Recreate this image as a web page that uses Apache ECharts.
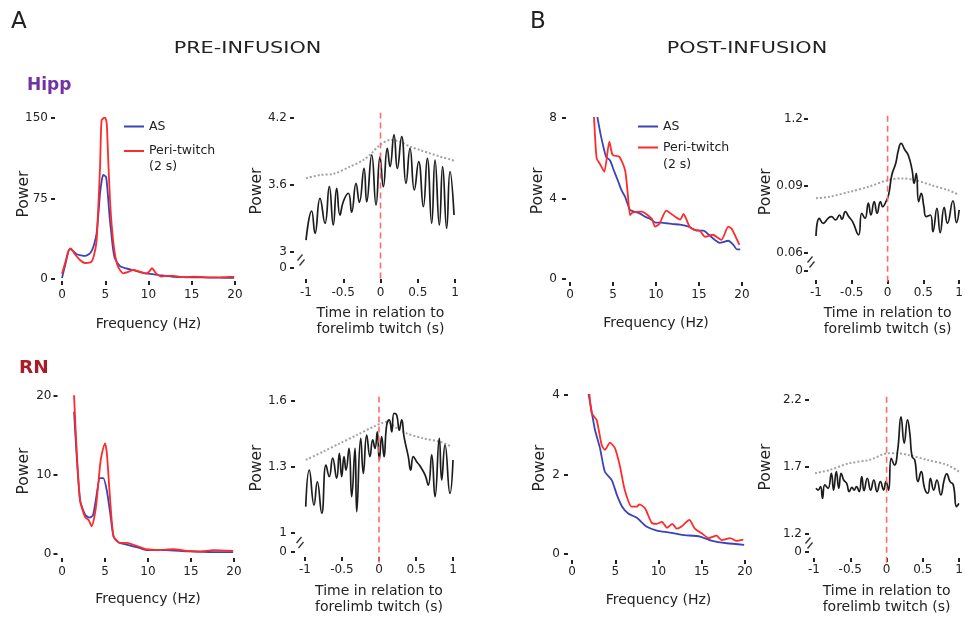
<!DOCTYPE html>
<html><head><meta charset="utf-8">
<script src="https://cdn.jsdelivr.net/npm/echarts@6/dist/echarts.min.js"></script>
<style>html,body{margin:0;padding:0;background:#fff}#c{width:966px;height:618px}</style>
</head><body><div id="c"></div>
<script>
// ================= DATA =================
const freqAxisTicks = [0, 5, 10, 15, 20];
const timeAxisTicks = [-1, -0.5, 0, 0.5, 1];
const twitchTime = 0;
const brokenAxisZeroLabel = '0';

// A - Hipp, pre-infusion spectrum [Hz, power]
const hippPrePowerTicks = [0, 75, 150];
const hippPreAS = [[0,1],[0.4,14],[0.9,28],[1.3,26],[1.7,23],[2.2,22],[2.7,21.5],[3.1,23],[3.4,25.8],[3.7,32],[4,42.6],[4.2,60],[4.4,80],[4.6,92],[4.77,97],[5.1,95],[5.35,73.6],[5.5,58],[5.7,42.6],[5.9,28],[6.1,19.5],[6.7,12],[7.4,10],[8.2,8.4],[9,6.5],[9.7,5.3],[10.5,4.5],[11.2,3.7],[12,3],[12.9,2],[14,1.8],[16,1.5],[18,1.2],[19.9,1]];
const hippPrePeri = [[0,5],[0.4,16],[0.73,26],[1.0,28.6],[1.5,23],[2.08,17.7],[2.66,14.9],[3.0,15],[3.4,16],[3.7,22],[4,36],[4.2,68],[4.4,104.6],[4.58,148],[4.97,150.6],[5.17,145],[5.35,110],[5.55,73.6],[5.8,45],[6.1,24],[6.4,13],[6.7,8.4],[7.1,5.3],[7.6,6.5],[8.2,8.4],[8.9,7],[9.7,5],[10.1,7],[10.4,10],[10.9,5],[11.5,2.3],[12.2,3],[12.9,3],[13.6,2],[14.4,1.6],[15.2,2.2],[16,2],[17,1.6],[17.9,1.5],[18.9,1.8],[19.9,2]];

// A - Hipp, pre-infusion peri-twitch power [s, power]
const hippPreTimeTicks = [3, 3.6, 4.2];
const hippPreTimeTickLabels = ['3', '3.6', '4.2'];
const hippPreTwitch = [[-1.0,3.107],[-0.924,3.367],[-0.879,3.167],[-0.812,3.481],[-0.745,3.257],[-0.687,3.585],[-0.634,3.242],[-0.588,3.570],[-0.544,3.331],[-0.5,3.45],[-0.432,3.526],[-0.387,3.356],[-0.329,3.615],[-0.284,3.445],[-0.221,3.749],[-0.185,3.45],[-0.118,3.869],[-0.06,3.421],[-0.007,3.853],[0.038,3.585],[0.091,3.929],[0.128,3.764],[0.181,4.048],[0.226,3.749],[0.284,4.033],[0.342,3.615],[0.396,3.929],[0.454,3.555],[0.512,3.809],[0.575,3.406],[0.628,3.839],[0.687,3.257],[0.732,3.824],[0.79,3.242],[0.834,3.764],[0.888,3.212],[0.933,3.719],[0.987,3.331]];
const hippPreShuffled = [[-1,3.66],[-0.81,3.69],[-0.63,3.70],[-0.41,3.764],[-0.23,3.824],[-0.12,3.884],[-0.01,3.958],[0.13,4.003],[0.26,3.988],[0.4,3.943],[0.53,3.913],[0.66,3.884],[0.8,3.854],[0.96,3.824],[1.0,3.81]];

// B - Hipp, post-infusion spectrum
const hippPostPowerTicks = [0, 4, 8];
const hippPostAS = [[3.18,8.06],[3.6,7.1],[4.19,6.08],[4.65,5.9],[5.1,5.4],[5.62,4.83],[6.0,4.4],[6.4,4.09],[6.98,3.43],[7.5,3.35],[8.1,3.26],[8.7,3.1],[9.3,3.0],[9.96,2.8],[10.6,2.8],[11.2,2.77],[12,2.73],[12.8,2.7],[13.8,2.6],[14.8,2.4],[15.5,2.4],[16.4,2.1],[17.4,1.8],[18.4,1.9],[19,1.7],[19.4,1.47],[19.8,1.47]];
const hippPostPeri = [[2.79,8.06],[3.1,6.0],[3.5,5.7],[3.99,5.33],[4.57,6.82],[4.96,6.16],[5.73,6.08],[6.4,5.42],[6.7,4.3],[6.98,3.18],[7.25,3.3],[8.33,3.35],[9.5,3.0],[9.9,2.6],[10.4,2.75],[11.2,3.4],[12.2,3.1],[12.8,2.95],[13.2,3.23],[13.9,2.6],[14.4,2.45],[15.1,2.4],[15.7,2.1],[16.6,2.2],[17.6,1.94],[18.4,2.6],[18.8,2.5],[19.7,1.69]];

// B - Hipp, post-infusion peri-twitch power
const hippPostTimeTicks = [0.06, 0.09, 0.12];
const hippPostTimeTickLabels = ['0.06', '0.09', '1.2'];
const hippPostTwitch = [[-1.0,0.0676],[-0.954,0.0755],[-0.9,0.0733],[-0.831,0.0755],[-0.785,0.0763],[-0.726,0.0748],[-0.671,0.0770],[-0.639,0.0751],[-0.589,0.0785],[-0.543,0.0763],[-0.489,0.074],[-0.406,0.0681],[-0.361,0.0778],[-0.315,0.0755],[-0.269,0.0823],[-0.233,0.077],[-0.187,0.0830],[-0.146,0.0778],[-0.1,0.0830],[-0.068,0.0807],[-0.023,0.0830],[0.014,0.086],[0.059,0.0949],[0.114,0.1002],[0.151,0.1061],[0.188,0.1091],[0.242,0.1061],[0.288,0.1039],[0.342,0.0972],[0.37,0.0912],[0.401,0.0957],[0.434,0.0830],[0.47,0.0867],[0.507,0.0807],[0.539,0.0763],[0.598,0.0770],[0.634,0.0695],[0.689,0.0800],[0.735,0.0691],[0.79,0.0804],[0.836,0.0733],[0.913,0.0834],[0.963,0.0736],[1.0,0.0793]];
const hippPostShuffled = [[-1,0.0845],[-0.81,0.0852],[-0.53,0.0874],[-0.26,0.0897],[0.01,0.0927],[0.2,0.0934],[0.38,0.0927],[0.61,0.0904],[0.84,0.0882],[1.0,0.086]];

// A - RN, pre-infusion spectrum
const rnPrePowerTicks = [0, 10, 20];
const rnPreAS = [[1.4,18],[1.7,12.5],[2.1,6.8],[2.67,5],[3.2,4.6],[3.6,4.9],[4,7.3],[4.4,9.6],[4.8,9.6],[5.2,8.1],[5.6,5.2],[6,2.2],[6.7,1.4],[7.5,1.2],[8.9,0.8],[9.8,0.5],[12,0.5],[14.5,0.35],[17.6,0.25],[19.9,0.25]];
const rnPrePeri = [[1.4,20.1],[1.7,13.2],[2.1,6.8],[2.67,4.7],[3.1,4.3],[3.45,3.5],[3.75,4.6],[4.0,6.4],[4.4,11],[4.6,12.5],[5.0,14],[5.2,12.9],[5.4,10],[5.6,6.8],[6.0,2.2],[6.7,1.4],[7.5,1.4],[8.2,1.2],[8.9,0.95],[9.8,0.6],[11.2,0.5],[12.9,0.6],[14.5,0.4],[16,0.3],[17.6,0.5],[19.9,0.4]];

// A - RN, pre-infusion peri-twitch power
const rnPreTimeTicks = [1, 1.3, 1.6];
const rnPreTimeTickLabels = ['1', '1.3', '1.6'];
const rnPreTwitch = [[-0.99,1.12],[-0.942,1.286],[-0.878,1.127],[-0.834,1.233],[-0.774,1.09],[-0.716,1.309],[-0.672,1.256],[-0.626,1.34],[-0.572,1.249],[-0.536,1.362],[-0.504,1.256],[-0.473,1.347],[-0.446,1.286],[-0.405,1.385],[-0.369,1.165],[-0.324,1.385],[-0.301,1.097],[-0.247,1.43],[-0.212,1.271],[-0.166,1.445],[-0.122,1.347],[-0.085,1.423],[-0.054,1.385],[-0.023,1.46],[0.004,1.332],[0.036,1.438],[0.068,1.347],[0.104,1.491],[0.139,1.514],[0.172,1.46],[0.203,1.544],[0.239,1.536],[0.274,1.468],[0.307,1.514],[0.338,1.438],[0.396,1.347],[0.428,1.286],[0.464,1.347],[0.509,1.324],[0.545,1.309],[0.622,1.264],[0.666,1.218],[0.712,1.355],[0.757,1.165],[0.815,1.43],[0.847,1.241],[0.892,1.4],[0.959,1.18],[1.0,1.332]];
const rnPreShuffled = [[-0.99,1.332],[-0.753,1.37],[-0.527,1.408],[-0.301,1.445],[-0.077,1.483],[0.036,1.499],[0.104,1.506],[0.239,1.476],[0.374,1.453],[0.599,1.43],[0.824,1.415],[0.982,1.392]];

// B - RN, post-infusion spectrum
const rnPostPowerTicks = [0, 2, 4];
const rnPostAS = [[1.9,4.05],[2.3,3.55],[2.66,3.12],[3.24,2.66],[3.8,2.07],[4.6,1.86],[5.2,1.48],[5.8,1.19],[6.5,1.02],[7.5,0.91],[8.6,0.69],[9.8,0.59],[11.3,0.54],[12.7,0.48],[14.8,0.44],[16.2,0.33],[17.9,0.27],[19.9,0.23]];
const rnPostPeri = [[2.0,4.06],[2.28,3.54],[2.85,3.37],[3.43,2.74],[3.8,2.62],[4.4,2.8],[4.97,2.66],[5.55,2.2],[6.1,1.61],[6.9,1.19],[7.5,1.19],[7.8,1.25],[8.44,1.15],[9.2,0.79],[9.8,0.76],[10.4,0.81],[10.97,0.66],[11.6,0.76],[12.1,0.64],[12.7,0.7],[13.56,0.86],[14.2,0.64],[15,0.52],[15.8,0.4],[16.7,0.46],[17.3,0.35],[18.3,0.4],[19,0.33],[19.8,0.36]];

// B - RN, post-infusion peri-twitch power
const rnPostTimeTicks = [1.2, 1.7, 2.2];
const rnPostTimeTickLabels = ['1.2', '1.7', '2.2'];
const rnPostTwitch = [[-0.973,1.541],[-0.942,1.528],[-0.91,1.553],[-0.883,1.466],[-0.851,1.566],[-0.807,1.541],[-0.761,1.653],[-0.73,1.528],[-0.693,1.665],[-0.658,1.541],[-0.626,1.653],[-0.591,1.603],[-0.55,1.578],[-0.514,1.516],[-0.477,1.548],[-0.446,1.528],[-0.415,1.553],[-0.378,1.516],[-0.342,1.628],[-0.311,1.523],[-0.266,1.616],[-0.22,1.528],[-0.176,1.603],[-0.131,1.516],[-0.085,1.591],[-0.041,1.528],[-0.009,1.591],[0.027,1.528],[0.064,1.765],[0.108,1.715],[0.153,1.827],[0.199,2.075],[0.243,1.877],[0.288,2.051],[0.32,1.951],[0.351,1.777],[0.388,1.752],[0.432,1.591],[0.477,1.665],[0.523,1.541],[0.568,1.504],[0.604,1.616],[0.649,1.528],[0.693,1.603],[0.747,1.491],[0.793,1.603],[0.828,1.648],[0.874,1.591],[0.919,1.566],[0.964,1.404],[0.996,1.429]];
const rnPostShuffled = [[-0.986,1.653],[-0.784,1.678],[-0.514,1.728],[-0.243,1.752],[0.027,1.802],[0.162,1.802],[0.297,1.79],[0.568,1.752],[0.838,1.715],[0.996,1.665]];

const seriesNames = ['AS', 'Peri-twitch'];
const periNote = '(2 s)';
const freqAxisName = 'Frequency (Hz)';
const timeAxisName = 'Time in relation to\nforelimb twitch (s)';
const powerAxisName = 'Power';

// ================= LAYOUT / STYLE =================
const FONT = 'DejaVu Sans';
const INK = '#222';
const C_AS = '#3b43b8', C_PERI = '#ff2a2a', C_TW = '#1c1c1c', C_SH = '#a3a3a3', C_ZERO = '#ff6a6a';

const panels = [
  {kind:'freq', a:hippPreAS, b:hippPrePeri, yTicks:hippPrePowerTicks,
   grid:[62,118,173,161], xOff:2, yOff:7, xMargin:8, yMargin:7, xNameGap:35, yNameGap:23.5, yShift:4.5},
  {kind:'time', a:hippPreShuffled, b:hippPreTwitch, yTicks:hippPreTimeTicks, yLabels:hippPreTimeTickLabels, breakFrac:0.239,
   grid:[306,118,149,150], xOff:11, yOff:12, xMargin:7.5, yMargin:7, xNameGap:26, yNameGap:29, yShift:2},
  {kind:'freq', a:hippPostAS, b:hippPostPeri, yTicks:hippPostPowerTicks,
   grid:[570,118,172,161], xOff:3, yOff:4, xMargin:7, yMargin:9, xNameGap:33, yNameGap:20, yShift:7.7},
  {kind:'time', a:hippPostShuffled, b:hippPostTwitch, yTicks:hippPostTimeTicks, yLabels:hippPostTimeTickLabels, breakFrac:0.269,
   grid:[816,119,146,152], xOff:9, yOff:8, xMargin:6.5, yMargin:5, xNameGap:25, yNameGap:34.5, yShift:3.3},
  {kind:'freq', a:rnPreAS, b:rnPrePeri, yTicks:rnPrePowerTicks,
   grid:[62,396,172,158], xOff:4, yOff:4.5, xMargin:7.5, yMargin:6, xNameGap:33, yNameGap:26, yShift:4},
  {kind:'time', a:rnPreShuffled, b:rnPreTwitch, yTicks:rnPreTimeTicks, yLabels:rnPreTimeTickLabels, breakFrac:0.288,
   grid:[305,401,148,151], xOff:5, yOff:10, xMargin:7, yMargin:8, xNameGap:26, yNameGap:30, yShift:8.5},
  {kind:'freq', a:rnPostAS, b:rnPostPeri, yTicks:rnPostPowerTicks,
   grid:[572,395,173,159], xOff:6, yOff:4, xMargin:6, yMargin:8, xNameGap:32, yNameGap:20, yShift:6.5},
  {kind:'time', a:rnPostShuffled, b:rnPostTwitch, yTicks:rnPostTimeTicks, yLabels:rnPostTimeTickLabels, breakFrac:0.269,
   grid:[814,400,148,152], xOff:6, yOff:5, xMargin:6, yMargin:7, xNameGap:25, yNameGap:35, yShift:9}
];

const grids = [], xAxes = [], yAxes = [], series = [];
const tickStyle = {color: INK, width: 2};
const noLine = {show:false, onZero:false};

panels.forEach((p, i) => {
  grids.push({left:p.grid[0], top:p.grid[1], width:p.grid[2], height:p.grid[3], containLabel:false});
  const xt = p.kind === 'freq' ? freqAxisTicks : timeAxisTicks;
  xAxes.push({
    type:'value', gridIndex:i, min:xt[0], max:xt[xt.length-1], interval:xt[1]-xt[0], offset:p.xOff,
    axisLine:noLine, splitLine:{show:false},
    axisTick:{show:true, length:4, lineStyle:tickStyle},
    axisLabel:{margin:p.xMargin, fontFamily:FONT, fontSize:12, color:INK},
    name: p.kind === 'freq' ? freqAxisName : timeAxisName,
    nameLocation:'middle', nameGap:p.xNameGap, nameMoveOverlap:false,
    nameTextStyle:{fontFamily:FONT, fontSize:14, color:INK, lineHeight:16.5}
  });
  const yName = {name:powerAxisName, nameLocation:'middle', nameGap:p.yNameGap, nameMoveOverlap:false,
    nameTextStyle:{fontFamily:FONT, fontSize:15.5, color:INK, padding:[0,0,0,2*p.yShift]}};
  if (p.kind === 'freq') {
    const yt = p.yTicks;
    yAxes.push(Object.assign({
      type:'value', gridIndex:i, min:yt[0], max:yt[yt.length-1], interval:yt[1]-yt[0], offset:p.yOff,
      axisLine:noLine, splitLine:{show:false},
      axisTick:{show:true, length:4, lineStyle:tickStyle},
      axisLabel:{margin:p.yMargin, fontFamily:FONT, fontSize:12, color:INK}
    }, yName));
    series.push({type:'line', name:seriesNames[0], xAxisIndex:i, yAxisIndex:i, data:p.a, showSymbol:false, symbol:'none',
      smooth:0.2, lineStyle:{color:C_AS, width:1.8}, itemStyle:{color:C_AS}, z:2});
    series.push({type:'line', name:seriesNames[1], xAxisIndex:i, yAxisIndex:i, data:p.b, showSymbol:false, symbol:'none',
      smooth:0.2, lineStyle:{color:C_PERI, width:1.8}, itemStyle:{color:C_PERI}, z:3});
  } else {
    const yt = p.yTicks;
    const step = yt[1] - yt[0];
    const yMin = yt[0] - step * p.breakFrac;
    const yMax = yt[yt.length-1];
    p.yMin = yMin; p.yMax = yMax;
    const vals = [yMin].concat(yt);
    const labs = [brokenAxisZeroLabel].concat(p.yLabels);
    const fmt = v => { let best = 0, d = Infinity; vals.forEach((u, k) => { if (Math.abs(u - v) < d) { d = Math.abs(u - v); best = k; } }); return labs[best]; };
    yAxes.push(Object.assign({
      type:'value', gridIndex:i, min:yMin, max:yMax, offset:p.yOff,
      axisLine:noLine, splitLine:{show:false},
      axisTick:{show:true, length:4, lineStyle:tickStyle, customValues:vals},
      axisLabel:{margin:p.yMargin, fontFamily:FONT, fontSize:12, color:INK, customValues:vals, formatter:fmt}
    }, yName));
    series.push({type:'line', name:'Shuffled', xAxisIndex:i, yAxisIndex:i, data:p.a, symbol:'none', smooth:0.3,
      lineStyle:{color:C_SH, width:2, type:[2,2]}, z:2});
    series.push({type:'line', name:'Peri-twitch power', xAxisIndex:i, yAxisIndex:i, data:p.b, symbol:'none', smooth:0.5,
      lineStyle:{color:C_TW, width:1.7}, z:3});
    const range = yMax - yMin;
    series.push({type:'line', name:'Twitch onset', xAxisIndex:i, yAxisIndex:i, clip:false, symbol:'none',
      data:[[twitchTime, yMin - range*0.07], [twitchTime, yMax + range*0.035]],
      lineStyle:{color:C_ZERO, width:1.6, type:[6,4]}, z:4});
  }
});

const legendBase = {
  data: seriesNames, orient:'vertical', icon:'rect', itemWidth:20, itemHeight:2,
  textStyle:{fontFamily:FONT, fontSize:12.5, color:INK}, padding:0, selectedMode:false
};

const chart = echarts.init(document.getElementById('c'), null, {renderer:'canvas'});
chart.setOption({
  animation:false,
  backgroundColor:'#fff',
  grid:grids, xAxis:xAxes, yAxis:yAxes, series:series,
  legend:[
    Object.assign({}, legendBase, {left:124, top:120, itemGap:11.5}),
    Object.assign({}, legendBase, {left:638, top:120, itemGap:8})
  ]
});

// ---- text and axis-break marks ----
const txt = (id, x, y, text, font, fill, align, sx) => ({
  type:'text', id, x, y, scaleX: sx || 1, silent:true,
  style:{text, x:0, y:0, font, fill, textAlign:align || 'left', textVerticalAlign:'middle'}
});
const elements = [
  txt('A', 11, 22, 'A', '23px "DejaVu Sans"', INK),
  txt('B', 530, 22, 'B', '23px "DejaVu Sans"', INK),
  txt('pre', 247.5, 49, 'PRE-INFUSION', '16.5px "DejaVu Sans"', INK, 'center', 1.26),
  txt('post', 747, 49, 'POST-INFUSION', '16.5px "DejaVu Sans"', INK, 'center', 1.26),
  txt('hipp', 27, 86, 'Hipp', 'bold 17px "DejaVu Sans"', '#7233a0'),
  txt('rn', 19, 368, 'RN', 'bold 18.5px "DejaVu Sans"', '#a81d26'),
  txt('n1', 149, 167, periNote, '12.5px "DejaVu Sans"', INK),
  txt('n2', 663, 165, periNote, '12.5px "DejaVu Sans"', INK)
];
panels.forEach((p, i) => {
  if (p.kind !== 'time') return;
  const mid = (p.yMin + p.yTicks[0]) / 2;
  const pt = chart.convertToPixel({gridIndex:i}, [timeAxisTicks[0], mid]);
  const cx = pt[0] - 5, cy = pt[1];
  [[-1, -2.5], [1, 2.5]].forEach((o, k) => {
    elements.push({type:'line', id:'brk' + i + '_' + k, silent:true,
      shape:{x1:cx + o[0] - 2.5, y1:cy + o[1] + 3, x2:cx + o[0] + 2.5, y2:cy + o[1] - 3},
      style:{stroke:'#333', lineWidth:1.3}});
  });
});
chart.setOption({graphic:{elements}});
</script>
</body></html>
